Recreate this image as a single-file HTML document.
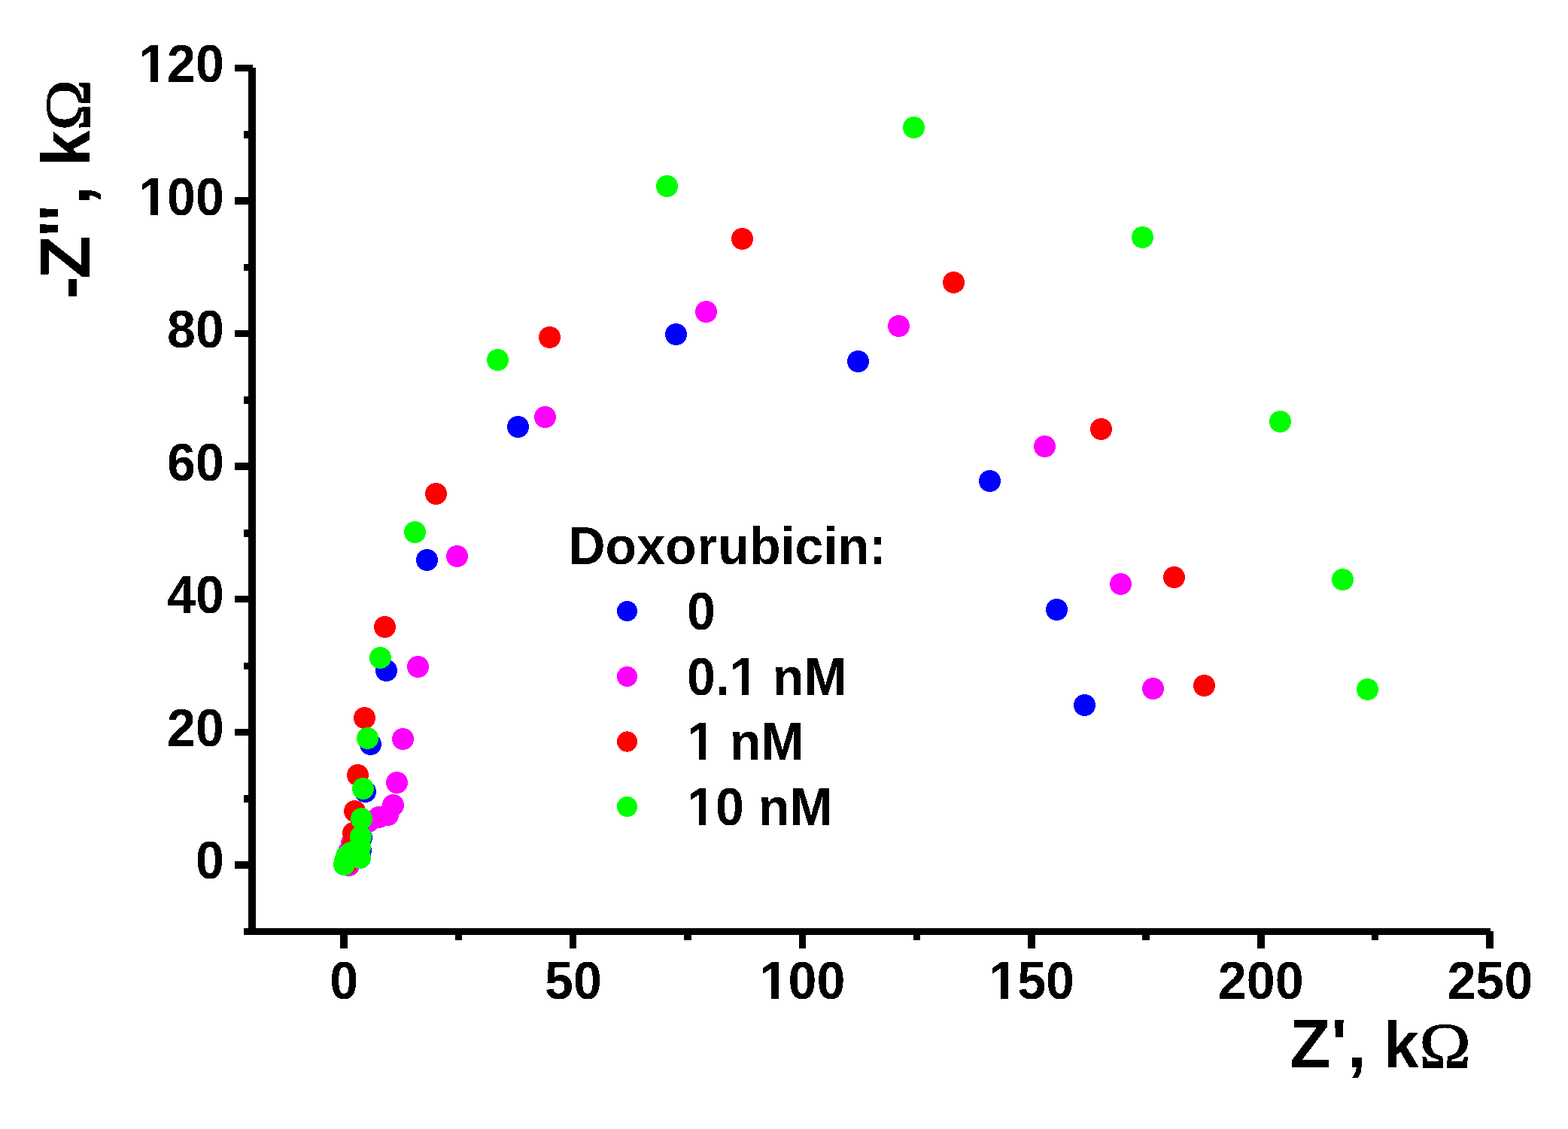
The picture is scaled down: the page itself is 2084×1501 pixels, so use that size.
<!DOCTYPE html>
<html lang="en">
<head>
<meta charset="utf-8">
<title>Nyquist plot - Doxorubicin</title>
<style>
html,body{margin:0;padding:0;background:#fff;}
body{width:2084px;height:1501px;}
svg{display:block;}
text{filter:url(#bin);font-family:"Liberation Sans",Arial,Helvetica,sans-serif;font-weight:bold;fill:#000;}
.tk{font-size:68.2px;}
.tx{font-size:88.5px;}
.ty{font-size:89.5px;}
.om{font-family:"Liberation Serif","DejaVu Serif",serif;font-weight:normal;stroke:#000;stroke-width:1.5px;stroke-linejoin:miter;}
</style>
</head>
<body>
<svg width="2084" height="1501" viewBox="0 0 2084 1501" role="img" aria-label="Nyquist plot of impedance at different doxorubicin concentrations">
<defs>
<filter id="bin" x="-5%" y="-5%" width="110%" height="110%" color-interpolation-filters="sRGB">
<feComponentTransfer><feFuncA type="discrete" tableValues="0 1"/></feComponentTransfer>
</filter>
</defs>
<rect x="0" y="0" width="2084" height="1501" fill="#ffffff"/>
<g fill="#000" shape-rendering="crispEdges">
<rect x="330" y="90" width="10" height="1153"/>
<rect x="324" y="1234" width="1657" height="9"/>
<rect x="312" y="86" width="24" height="9"/>
<rect x="324" y="174" width="8" height="10"/>
<rect x="312" y="262" width="20" height="10"/>
<rect x="324" y="351" width="8" height="9"/>
<rect x="312" y="439" width="20" height="9"/>
<rect x="324" y="527" width="8" height="10"/>
<rect x="312" y="615" width="20" height="10"/>
<rect x="324" y="704" width="8" height="10"/>
<rect x="312" y="792" width="20" height="9"/>
<rect x="324" y="881" width="8" height="9"/>
<rect x="312" y="969" width="20" height="9"/>
<rect x="324" y="1057" width="8" height="10"/>
<rect x="312" y="1145" width="20" height="10"/>
<rect x="452" y="1238" width="10" height="23"/>
<rect x="605" y="1238" width="9" height="12"/>
<rect x="757" y="1238" width="9" height="23"/>
<rect x="909" y="1238" width="10" height="12"/>
<rect x="1062" y="1238" width="9" height="23"/>
<rect x="1214" y="1238" width="9" height="12"/>
<rect x="1366" y="1238" width="10" height="23"/>
<rect x="1518" y="1238" width="10" height="12"/>
<rect x="1671" y="1238" width="10" height="23"/>
<rect x="1823" y="1238" width="9" height="12"/>
<rect x="1975" y="1238" width="10" height="23"/>
</g>
<g>
<text class="tk" transform="translate(297.9,1168.1) scale(1.0,1.04)" text-anchor="end">0</text>
<text class="tk" transform="translate(297.9,991.6) scale(1.0,1.04)" text-anchor="end">20</text>
<text class="tk" transform="translate(297.9,815.1) scale(1.0,1.04)" text-anchor="end">40</text>
<text class="tk" transform="translate(297.9,638.6) scale(1.0,1.04)" text-anchor="end">60</text>
<text class="tk" transform="translate(297.9,462.1) scale(1.0,1.04)" text-anchor="end">80</text>
<text class="tk" transform="translate(297.9,285.6) scale(1.0,1.04)" text-anchor="end">100</text>
<text class="tk" transform="translate(297.9,109.1) scale(1.0,1.04)" text-anchor="end">120</text>
<text class="tk" transform="translate(457.3,1327.6) scale(1.0,1.04)" text-anchor="middle">0</text>
<text class="tk" transform="translate(761.9,1327.6) scale(1.0,1.04)" text-anchor="middle">50</text>
<text class="tk" transform="translate(1066.5,1327.6) scale(1.0,1.04)" text-anchor="middle">100</text>
<text class="tk" transform="translate(1371.1,1327.6) scale(1.0,1.04)" text-anchor="middle">150</text>
<text class="tk" transform="translate(1675.7,1327.6) scale(1.0,1.04)" text-anchor="middle">200</text>
<text class="tk" transform="translate(1980.3,1327.6) scale(1.0,1.04)" text-anchor="middle">250</text>
</g>
<text class="tx" transform="translate(1714.2,1419.2) scale(1,1.035)"><tspan x="0.0">Z</tspan><tspan x="55.0">'</tspan><tspan x="76.9">,</tspan><tspan x="100.8"> </tspan><tspan x="124.7" style="font-size:84.2px">k</tspan><tspan class="om" x="172.2" style="font-size:80.9px" textLength="68.3" lengthAdjust="spacingAndGlyphs">Ω</tspan></text>
<text class="ty" transform="translate(119.1,400.0) rotate(-90) scale(1,1.06)"><tspan x="2.6" y="1.9">-</tspan><tspan x="28.9" y="0" textLength="58.0" lengthAdjust="spacingAndGlyphs">Z</tspan><tspan x="85.3">'</tspan><tspan x="106.3">'</tspan><tspan x="127.9">,</tspan><tspan x="155.0"> </tspan><tspan x="179.2" style="font-size:85.2px">k</tspan><tspan class="om" x="226.4" style="font-size:79.0px" textLength="67.8" lengthAdjust="spacingAndGlyphs">Ω</tspan></text>
<text class="tk" transform="translate(755.3,750.2) scale(1.0,1.04)">Doxo<tspan dx="1">r</tspan><tspan dx="1">ubicin:</tspan></text>
<circle cx="833.5" cy="812.5" r="13.6" fill="#0000ff" shape-rendering="crispEdges"/>
<text class="tk" transform="translate(913,837.3) scale(1.0,1.04)">0</text>
<circle cx="833.5" cy="899.5" r="13.6" fill="#ff00ff" shape-rendering="crispEdges"/>
<text class="tk" transform="translate(913,923.8) scale(1.0,1.04)">0.1 nM</text>
<circle cx="833.5" cy="986" r="13.6" fill="#ff0000" shape-rendering="crispEdges"/>
<text class="tk" transform="translate(913,1010.3) scale(1.0,1.04)">1 nM</text>
<circle cx="833.5" cy="1072.5" r="13.6" fill="#00ff00" shape-rendering="crispEdges"/>
<text class="tk" transform="translate(913,1096.8) scale(1.0,1.04)">10 nM</text>
<g fill="#ffffff" shape-rendering="crispEdges">
<rect x="186" y="279" width="14" height="9"/>
<rect x="210" y="279" width="13" height="9"/>
<rect x="186" y="102" width="14" height="9"/>
<rect x="210" y="102" width="13" height="9"/>
<rect x="1011" y="1321" width="14" height="9"/>
<rect x="1035" y="1321" width="13" height="9"/>
<rect x="1316" y="1321" width="14" height="9"/>
<rect x="1340" y="1321" width="13" height="9"/>
<rect x="972" y="917" width="14" height="9"/>
<rect x="995" y="917" width="13" height="9"/>
<rect x="915" y="1003" width="14" height="9"/>
<rect x="938" y="1003" width="14" height="9"/>
<rect x="915" y="1090" width="14" height="9"/>
<rect x="938" y="1090" width="14" height="9"/>
</g>
<g shape-rendering="crispEdges" fill="#0000ff">
<circle cx="898.5" cy="444.5" r="14.5"/>
<circle cx="1140.5" cy="480.5" r="14.5"/>
<circle cx="688.5" cy="567.5" r="14.5"/>
<circle cx="1315.5" cy="639.5" r="14.5"/>
<circle cx="567.5" cy="744.5" r="14.5"/>
<circle cx="1404.5" cy="810.5" r="14.5"/>
<circle cx="513.5" cy="891.5" r="14.5"/>
<circle cx="1441.5" cy="937.5" r="14.5"/>
<circle cx="492.5" cy="989.5" r="14.5"/>
<circle cx="485.5" cy="1052.5" r="14.5"/>
<circle cx="480.5" cy="1090.5" r="14.5"/>
<circle cx="480.5" cy="1113.5" r="14.5"/>
<circle cx="479.5" cy="1130.5" r="14.5"/>
<circle cx="478.5" cy="1139.5" r="14.5"/>
<circle cx="466.5" cy="1140.5" r="14.5"/>
<circle cx="458.5" cy="1149.5" r="14.5"/>
</g>
<g shape-rendering="crispEdges" fill="#ff00ff">
<circle cx="938.5" cy="414.5" r="14.5"/>
<circle cx="1194.5" cy="433.5" r="14.5"/>
<circle cx="724.5" cy="554.5" r="14.5"/>
<circle cx="1388.5" cy="593.5" r="14.5"/>
<circle cx="607.5" cy="739.5" r="14.5"/>
<circle cx="1489.5" cy="776.5" r="14.5"/>
<circle cx="555.5" cy="886.5" r="14.5"/>
<circle cx="1532.5" cy="915.5" r="14.5"/>
<circle cx="535.5" cy="982.5" r="14.5"/>
<circle cx="527.5" cy="1040.5" r="14.5"/>
<circle cx="522.5" cy="1070.5" r="14.5"/>
<circle cx="515.5" cy="1083.5" r="14.5"/>
<circle cx="503.5" cy="1086.5" r="14.5"/>
<circle cx="489.5" cy="1092.5" r="14.5"/>
<circle cx="476.5" cy="1105.5" r="14.5"/>
<circle cx="467.5" cy="1120.5" r="14.5"/>
<circle cx="463.5" cy="1132.5" r="14.5"/>
<circle cx="462.5" cy="1142.5" r="14.5"/>
<circle cx="463.5" cy="1150.5" r="14.5"/>
</g>
<g shape-rendering="crispEdges" fill="#ff0000">
<circle cx="986.5" cy="317.5" r="14.5"/>
<circle cx="1267.5" cy="375.5" r="14.5"/>
<circle cx="730.5" cy="448.5" r="14.5"/>
<circle cx="1463.5" cy="570.5" r="14.5"/>
<circle cx="579.5" cy="656.5" r="14.5"/>
<circle cx="1560.5" cy="767.5" r="14.5"/>
<circle cx="511.5" cy="833.5" r="14.5"/>
<circle cx="1600.5" cy="911.5" r="14.5"/>
<circle cx="484.5" cy="954.5" r="14.5"/>
<circle cx="475.5" cy="1030.5" r="14.5"/>
<circle cx="471.5" cy="1078.5" r="14.5"/>
<circle cx="469.5" cy="1107.5" r="14.5"/>
<circle cx="469.5" cy="1121.5" r="14.5"/>
<circle cx="468.5" cy="1133.5" r="14.5"/>
<circle cx="464.5" cy="1143.5" r="14.5"/>
<circle cx="460.5" cy="1148.5" r="14.5"/>
</g>
<g shape-rendering="crispEdges" fill="#00ff00">
<circle cx="1214.5" cy="169.5" r="14.5"/>
<circle cx="886.5" cy="247.5" r="14.5"/>
<circle cx="1518.5" cy="315.5" r="14.5"/>
<circle cx="661.5" cy="478.5" r="14.5"/>
<circle cx="1701.5" cy="560.5" r="14.5"/>
<circle cx="551.5" cy="707.5" r="14.5"/>
<circle cx="1784.5" cy="770.5" r="14.5"/>
<circle cx="505.5" cy="874.5" r="14.5"/>
<circle cx="1817.5" cy="916.5" r="14.5"/>
<circle cx="488.5" cy="981.5" r="14.5"/>
<circle cx="482.5" cy="1048.5" r="14.5"/>
<circle cx="480.5" cy="1088.5" r="14.5"/>
<circle cx="479.5" cy="1112.5" r="14.5"/>
<circle cx="478.5" cy="1126.5" r="14.5"/>
<circle cx="478.5" cy="1140.5" r="14.5"/>
<circle cx="472.5" cy="1136.5" r="14.5"/>
<circle cx="466.5" cy="1133.5" r="14.5"/>
<circle cx="460.5" cy="1138.5" r="14.5"/>
<circle cx="458.5" cy="1144.5" r="14.5"/>
<circle cx="457.5" cy="1149.5" r="14.5"/>
</g>
</svg>
</body>
</html>
